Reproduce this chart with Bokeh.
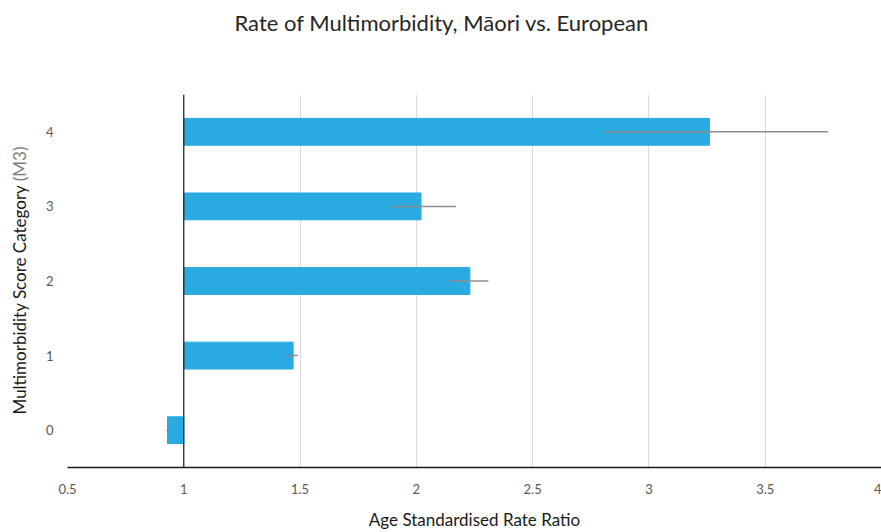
import math
from bokeh.plotting import figure
from bokeh.models import (Span, Whisker, ColumnDataSource, FixedTicker, NumeralTickFormatter,
                          Range1d, Title, Label)
from bokeh.embed import file_html
from bokeh.resources import INLINE

categories = [0, 1, 2, 3, 4]
rate_ratio = [0.93, 1.47, 2.23, 2.02, 3.26]
ci_lower = [0.925, 1.44, 2.14, 1.89, 2.81]
ci_upper = [0.935, 1.49, 2.31, 2.17, 3.77]
baseline = [1, 1, 1, 1, 1]
x_ticks = [0.5, 1, 1.5, 2, 2.5, 3, 3.5, 4]

FONT = "Lato"

src = ColumnDataSource(dict(cat=categories, rr=rate_ratio, lo=ci_lower, hi=ci_upper, base=baseline))

p = figure(width=881, height=532, output_backend="svg", toolbar_location=None,
           x_range=Range1d(0.5, 4), y_range=Range1d(-0.5, 4.5),
           min_border_left=67, min_border_right=0, min_border_top=94, min_border_bottom=60)
p.outline_line_color = None
p.background_fill_color = "white"
p.border_fill_color = "white"

spacer = Title(text=" ", text_font_size="20px", standoff=30)
p.add_layout(spacer, "above")
t = Title(text="Rate of Multimorbidity, Māori vs. European", align="left",
          text_font=FONT, text_font_size="22px", text_font_style="normal",
          text_color="#262626", standoff=10, offset=167)
p.add_layout(t, "above")

p.hbar(y="cat", left="base", right="rr", height=0.36, source=src,
       fill_color="#29ABE2", line_color="#29ABE2", line_width=1)
w = Whisker(source=src, base="cat", lower="lo", upper="hi", dimension="width",
            line_color="#8c8c8c", line_width=1.5, level="overlay")
w.upper_head = None
w.lower_head = None
p.add_layout(w)

p.add_layout(Span(location=1, dimension="height", line_color="#1a1a1a", line_width=1.2))

p.xaxis.ticker = FixedTicker(ticks=x_ticks)
p.xaxis.formatter = NumeralTickFormatter(format="0.[0]")
p.yaxis.ticker = FixedTicker(ticks=categories)

for ax in (p.xaxis, p.yaxis):
    ax.major_tick_line_color = None
    ax.minor_tick_line_color = None
    ax.major_label_text_font = FONT
    ax.major_label_text_font_size = "13px"
    ax.major_label_text_color = "#595959"
    ax.axis_label_text_font = FONT
    ax.axis_label_text_font_size = "17px"
    ax.axis_label_text_font_style = "normal"
    ax.axis_label_text_color = "#1a1a1a"

p.xaxis.axis_line_color = "#1a1a1a"
p.xaxis.axis_line_width = 1.5
p.xaxis.major_label_standoff = 10
p.xaxis.axis_label = "Age Standardised Rate Ratio"
p.xaxis.axis_label_standoff = 12

p.yaxis.axis_line_color = None
p.yaxis.major_label_standoff = 8

# two-tone y-axis title drawn as labels in the left side panel
y_title_main = Label(x=-2, y=53, x_units="screen", y_units="screen",
                     text="Multimorbidity Score Category", angle=math.pi / 2,
                     text_align="left", text_baseline="middle",
                     text_font=FONT, text_font_size="17px", text_color="#1a1a1a")
y_title_unit = Label(x=19, y=321, x_units="screen", y_units="screen",
                     text="(M3)", angle=math.pi / 2,
                     text_align="right", text_baseline="middle",
                     text_font=FONT, text_font_size="17px", text_color="#808080")
p.add_layout(y_title_main, "left")
p.add_layout(y_title_unit, "left")

p.xgrid.ticker = FixedTicker(ticks=x_ticks)
p.xgrid.grid_line_color = "#d9d9d9"
p.xgrid.grid_line_width = 1
p.ygrid.grid_line_color = None

open("out.html", "w").write(file_html(p, INLINE))
